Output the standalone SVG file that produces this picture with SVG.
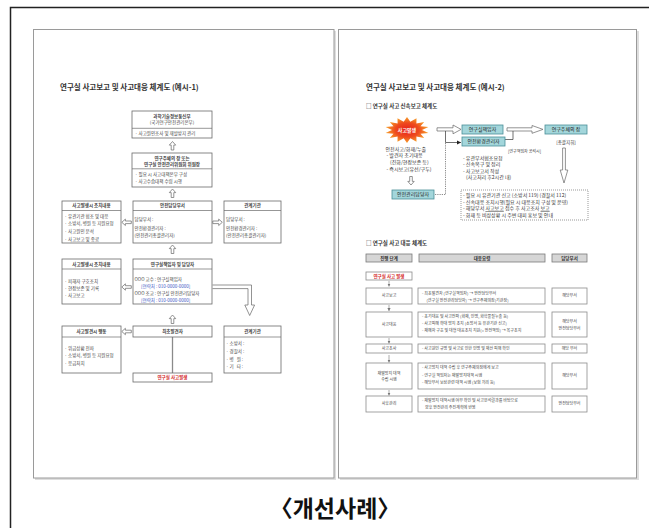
<svg xmlns="http://www.w3.org/2000/svg" width="649" height="528" viewBox="0 0 649 528">
<style>
.t{font-family:"Noto Sans CJK KR","Noto Sans",sans-serif;font-size:4.5px;fill:#444}
.b{font-weight:bold}
.c{text-anchor:middle}
.ttl{font-family:"Noto Sans CJK KR","Noto Sans",sans-serif;font-size:7.5px;font-weight:bold;fill:#333}
.sub{font-family:"Noto Sans CJK KR","Noto Sans",sans-serif;font-size:5.5px;font-weight:bold;fill:#333}
.r{font-size:5px}
.s4{font-size:4px}
.pg{fill:#fff;stroke:#9a9a9a;stroke-width:1}
.sh{fill:#dedede}
.bx{fill:#fff;stroke:#6a6a6a;stroke-width:0.8}
.dv{stroke:#6a6a6a;stroke-width:0.7}
.ha{fill:#fff;stroke:#666;stroke-width:0.7}
.teal{fill:#a3d6db;stroke:#4a8f98;stroke-width:0.8}
.tb{fill:#fff;stroke:#8c8c8c;stroke-width:0.8}
.th{fill:#d6d6d6;stroke:#7a7a7a;stroke-width:0.8}
.red{fill:#d42a2a}
.blue{fill:#3a55c4}
.ln{fill:none;stroke:#333;stroke-width:0.7}
.dot{fill:none;stroke:#333;stroke-width:0.7;stroke-dasharray:0.8 1}
.sa{fill:none;stroke:#777;stroke-width:0.6}
</style>
<defs>
<path id="au" d="M0,0 L3.2,3.6 L1.3,3.6 L1.3,8.5 L-1.3,8.5 L-1.3,3.6 L-3.2,3.6 Z"/>
<path id="al" d="M0,0 L3.6,-3.2 L3.6,-1.3 L9.5,-1.3 L9.5,1.3 L3.6,1.3 L3.6,3.2 Z"/>
<marker id="ah" markerUnits="userSpaceOnUse" markerWidth="5" markerHeight="5" refX="4" refY="2.5" orient="auto"><path d="M0,0.5 L4,2.5 L0,4.5 Z" fill="#222"/></marker>
<marker id="sm" markerUnits="userSpaceOnUse" markerWidth="4" markerHeight="4" refX="3" refY="2" orient="auto"><path d="M0,0.4 L3,2 L0,3.6 Z" fill="#777"/></marker>
<radialGradient id="burst" cx="0.5" cy="0.5" r="0.5">
<stop offset="0" stop-color="#e8201a"/><stop offset="0.55" stop-color="#ee4a1e"/><stop offset="1" stop-color="#f8a12a"/>
</radialGradient>
</defs>

<!-- outer frame -->
<path d="M10.5,528 V7.5 H649" fill="none" stroke="#222" stroke-width="1.5"/>

<!-- pages -->
<rect class="sh" x="35" y="31" width="301" height="449"/>
<rect class="pg" x="33.5" y="29.5" width="300.5" height="448.5"/>
<rect class="sh" x="340" y="31" width="299" height="449"/>
<rect class="pg" x="338.5" y="29.5" width="298" height="448.5"/>

<!-- ============ LEFT PAGE ============ -->
<text class="ttl" x="60" y="89.5">연구실 사고보고 및 사고대응 체계도 (예시-1)</text>

<g id="connectors-left">
<use href="#au" class="ha" transform="translate(172.5,141.5)"/>
<use href="#au" class="ha" transform="translate(172.5,189)"/>
<use href="#au" class="ha" transform="translate(172.5,245)"/>
<use href="#au" class="ha" transform="translate(172.5,315)"/>
<use href="#al" class="ha" transform="translate(121.8,222.3)"/>
<use href="#al" class="ha" transform="translate(222.3,222.3) scale(-1,1)"/>
<use href="#al" class="ha" transform="translate(121.8,287)"/>
<use href="#al" class="ha" transform="translate(121.8,331.5)"/>
<path class="ha" d="M212.5,285 H251.5 V305 H254.6 L249.7,315.5 L244.8,305 H248 V288.6 H212.5"/>
<line x1="172.5" y1="337" x2="172.5" y2="373" stroke="#8a8a8a" stroke-width="1.3"/>
</g>

<g id="n-msit">
<rect class="bx" x="132" y="111" width="80" height="27"/>
<text class="t b c" x="172" y="117.8">과학기술정보통신부</text>
<text class="t c" x="172" y="124.3">(국가연구안전관리본부)</text>
<line class="dv" x1="132" y1="128.3" x2="212" y2="128.3"/>
<text class="t" x="135" y="134.8">· 사고원인조사 및 재발방지 관리</text>
</g>

<g id="n-head">
<rect class="bx" x="132" y="153" width="80" height="34"/>
<text class="t b c" x="172" y="159.5">연구주체의 장 또는</text>
<text class="t b c" x="172" y="166">연구실 안전관리위원회 위원장</text>
<line class="dv" x1="132" y1="168.8" x2="212" y2="168.8"/>
<text class="t" x="135" y="175.6">· 필요 시 사고대책본부 구성</text>
<text class="t" x="135" y="183">· 사고수습대책 수립 시행</text>
</g>

<g id="n-act1">
<rect class="bx" x="62" y="201" width="59" height="42"/>
<text class="t b c" x="91.5" y="207.3">사고발생시 조치내용</text>
<line class="dv" x1="62" y1="210.5" x2="121" y2="210.5"/>
<text class="t" x="64.5" y="217.8">· 유관기관 협조 및 대응</text>
<text class="t" x="64.5" y="225.2">· 소방서, 병원 등 지원요청</text>
<text class="t" x="64.5" y="233.2">· 사고원인 분석</text>
<text class="t" x="64.5" y="240.6">· 사고보고 및 종료</text>
</g>

<g id="n-safety">
<rect class="bx" x="133" y="201" width="79" height="42"/>
<text class="t b c" x="172.5" y="207.3">안전담당부서</text>
<line class="dv" x1="133" y1="210.5" x2="212" y2="210.5"/>
<text class="t" x="134.5" y="220.6">담당부서 :</text>
<text class="t" x="134.5" y="229.6">안전환경관리자 :</text>
<text class="t" x="134.5" y="236.8">(안전관리총괄관리자)</text>
</g>

<g id="n-rel1">
<rect class="bx" x="224" y="201" width="57" height="42"/>
<text class="t b c" x="252.5" y="207.3">관계기관</text>
<line class="dv" x1="224" y1="210.5" x2="281" y2="210.5"/>
<text class="t" x="226" y="220.6">담당부서 :</text>
<text class="t" x="226" y="229.6">안전환경관리자 :</text>
<text class="t" x="226" y="236.8">(안전관리총괄관리자)</text>
</g>

<g id="n-act2">
<rect class="bx" x="62" y="259" width="59" height="45"/>
<text class="t b c" x="91.5" y="266.3">사고발생시 조치내용</text>
<line class="dv" x1="62" y1="269" x2="121" y2="269"/>
<text class="t" x="64.5" y="282.6">· 피해자 구호조치</text>
<text class="t" x="64.5" y="289.6">· 현장보존 및 기록</text>
<text class="t" x="64.5" y="296.6">· 사고보고</text>
</g>

<g id="n-lab">
<rect class="bx" x="133" y="259" width="79" height="45"/>
<text class="t b c" x="172.5" y="266.3">연구실책임자 및 담당자</text>
<line class="dv" x1="133" y1="269" x2="212" y2="269"/>
<text class="t" x="134.5" y="280.6">OOO 교수 : 연구실책임자</text>
<text class="t blue" x="141" y="287.6">[연락처 : 010-0000-0000]</text>
<text class="t" x="134.5" y="294.6">OOO 조교 : 연구실 안전관리담당자</text>
<text class="t blue" x="141" y="302">[연락처 : 010-0000-0000]</text>
</g>

<g id="n-act3">
<rect class="bx" x="62" y="326" width="59" height="47"/>
<text class="t b c" x="91.5" y="333.3">사고발견시 행동</text>
<line class="dv" x1="62" y1="337" x2="121" y2="337"/>
<text class="t" x="64.5" y="349.6">· 위급상황 전파</text>
<text class="t" x="64.5" y="357.3">· 소방서, 병원 등 지원요청</text>
<text class="t" x="64.5" y="364.6">· 응급처치</text>
</g>

<g id="n-finder">
<rect class="bx" x="133" y="326" width="79" height="11"/>
<text class="t b c" x="172.5" y="333.3">최초발견자</text>
</g>

<g id="n-accident">
<rect class="bx" x="133" y="373" width="79" height="9"/>
<text class="t b c red" x="172.5" y="379.3">연구실 사고발생</text>
</g>

<g id="n-rel2">
<rect class="bx" x="224" y="326" width="57" height="47"/>
<text class="t b c" x="252.5" y="333.3">관계기관</text>
<line class="dv" x1="224" y1="337" x2="281" y2="337"/>
<text class="t" x="226" y="344.6">· 소방서 :</text>
<text class="t" x="226" y="352.6">· 경찰서 :</text>
<text class="t" x="226" y="360.6">· 병&#160;&#160;&#160;원 :</text>
<text class="t" x="226" y="368.3">· 기&#160;&#160;&#160;타 :</text>
</g>

<!-- ============ RIGHT PAGE ============ -->
<text class="ttl" x="366" y="89.5">연구실 사고보고 및 사고대응 체계도 (예시-2)</text>
<text class="sub" x="366" y="107.5">□ 연구실 사고 신속보고 체계도</text>

<g id="connectors-right">
<path class="ha" d="M437,127.8 H453 V125 L461,129.4 L453,133.8 V131 H437 Z"/>
<path class="ha" d="M507,127.8 H532 V125.5 L543,129.4 L532,133.3 V131 H507 Z"/>
<path class="ha" d="M562.6,148 H565.4 V170 H567.8 L564,183 L560.2,170 H562.6 Z"/>
<use href="#au" class="ha" transform="translate(411,185) rotate(180)"/>
<path class="ln" d="M505,139.5 H513 V131"/>
<path class="ln" d="M445.5,131 V142.5 H461" marker-end="url(#ah)"/>
<path class="dot" d="M445.5,143 V194.5 H434"/>
<path class="sa" d="M389,281 V286.5" marker-end="url(#sm)"/>
<path class="sa" d="M389,305 V311" marker-end="url(#sm)"/>
<path class="sa" d="M389,338 V343.5" marker-end="url(#sm)"/>
<path class="sa" d="M389,355 V362.5" marker-end="url(#sm)"/>
<path class="sa" d="M389,390 V395.5" marker-end="url(#sm)"/>
</g>

<g id="n-burst">
<polygon fill="url(#burst)" points="407,117 410.3,121.7 416.5,118.3 416.4,123.4 424.2,121.9 420.5,126.3 428.4,127.1 422,130 428.4,132.9 420.5,133.7 424.2,138.1 416.4,136.6 416.5,141.7 410.3,138.3 407,143 403.7,138.3 397.5,141.7 397.6,136.6 389.8,138.1 393.5,133.7 385.6,132.9 392,130 385.6,127.1 393.5,126.3 389.8,121.9 397.6,123.4 397.5,118.3 403.7,121.7"/>
<text class="t b c r" x="407" y="131.8" style="fill:#fff">사고발생</text>
</g>

<g id="n-pi">
<rect class="teal" x="462" y="125" width="41" height="9"/>
<text class="t c r" x="482.5" y="131.3" style="fill:#222">연구실책임자</text>
</g>
<g id="n-she">
<rect class="teal" x="462" y="137" width="43" height="9"/>
<text class="t c r" x="483.5" y="143.3" style="fill:#222">안전환경관리자</text>
</g>
<g id="n-chief">
<rect class="teal" x="545" y="125" width="42" height="9"/>
<text class="t c r" x="566" y="131.3" style="fill:#222">연구주체의 장</text>
<text class="t c" x="566" y="144" style="fill:#333">[총괄지휘]</text>
</g>
<text class="t s4" x="508" y="152.5" style="fill:#333">[연구책임자 공석시]</text>

<g id="n-left-notes" class="t r" style="fill:#333">
<text x="385.5" y="151">안전사고/화재/누출</text>
<text x="386.5" y="157">- 발견자 초기대응</text>
<text x="390" y="163.5">(진화/현장보존 등)</text>
<text x="386.5" y="170.5">- 즉시보고(유선/구두)</text>
</g>

<g id="n-sm">
<rect class="teal" x="392" y="190" width="42" height="9"/>
<text class="t c r" x="413" y="196.3" style="fill:#222">안전관리담당자</text>
</g>

<g id="n-she-notes" class="t r" style="fill:#333">
<text x="463" y="159.8">- 유관부서협조요청</text>
<text x="463" y="166.3">- 신속복구 및 정리</text>
<text x="463" y="172.8">- 사고보고서 작성</text>
<text x="466" y="179.3">(사고처리 후2시간 내)</text>
</g>

<g id="n-dashed">
<rect x="461" y="190" width="127" height="30" fill="#fff" stroke="#555" stroke-width="0.6" stroke-dasharray="1 1"/>
<g class="t r" style="fill:#333">
<text x="463" y="196.8">- 필요 시 유관기관 신고 (소방서 119) (경찰서 112)</text>
<text x="463" y="203.8">- 신속대응 조치시행(필요 시 대응조치 구성 및 운영)</text>
<text x="463" y="210.3">- 해당부서 <tspan text-decoration="underline">사고보고</tspan> 접수 후 사고조사 <tspan text-decoration="underline">보고</tspan></text>
<text x="463" y="216.8">- 화재 등 비상상황 시 주변 대피 홍보 및 안내</text>
</g>
</g>

<text class="sub" x="366" y="244.5">□ 연구실 사고 대응 체계도</text>

<g id="n-table-head" class="t b c" style="fill:#333">
<rect class="th" x="366" y="254" width="46" height="8"/>
<rect class="th" x="419" y="254" width="126" height="8"/>
<rect class="th" x="552" y="254" width="35" height="8"/>
<text x="389" y="259.6">진행 단계</text>
<text x="482" y="259.6">대응요령</text>
<text x="569.5" y="259.6">담당부서</text>
</g>

<g id="n-row0">
<rect class="tb" x="366" y="272" width="46" height="8"/>
<text class="t b c red" x="389" y="277.6">연구실 사고 발생</text>
</g>

<g id="n-row1">
<rect class="tb" x="366" y="288" width="46" height="16"/>
<rect class="tb" x="418" y="288" width="127" height="16"/>
<rect class="tb" x="552" y="288" width="35" height="16"/>
<text class="t c s4" x="389" y="297.4">사고보고</text>
<text class="t s4" x="422" y="294.8">- 최초발견자 (연구실책임자) → 안전담당부서</text>
<text class="t s4" x="426.5" y="301.5">(연구실 안전관리담당자) → 연구주체의장(기관장)</text>
<text class="t c s4" x="569.5" y="297.4">해당부서</text>
</g>

<g id="n-row2">
<rect class="tb" x="366" y="312" width="46" height="25"/>
<rect class="tb" x="418" y="312" width="127" height="25"/>
<rect class="tb" x="552" y="312" width="35" height="25"/>
<text class="t c s4" x="389" y="325.9">사고대응</text>
<text class="t s4" x="422" y="317.5">- 초기대응 및 사고전파 (화재, 인명, 화학물질누출 등)</text>
<text class="t s4" x="422" y="324.8">- 사고피해 확대 방지 조치 (소방서 등 유관기관 신고)</text>
<text class="t s4" x="422" y="332.4">- 재해자 구호 및 대형 대응조치 지원(= 안전책임) → 복구조치</text>
<text class="t c s4" x="569.5" y="323.4">해당부서</text>
<text class="t c s4" x="569.5" y="330.4">안전담당부서</text>
</g>

<g id="n-row3">
<rect class="tb" x="366" y="344" width="46" height="9"/>
<rect class="tb" x="418" y="344" width="127" height="9"/>
<rect class="tb" x="552" y="344" width="35" height="9"/>
<text class="t c s4" x="389" y="349.9">사고조사</text>
<text class="t s4" x="422" y="349.9">- 사고원인 규명 및 사고로 인한 인명 및 재산 피해 확인</text>
<text class="t c s4" x="569.5" y="349.9">해당 부서</text>
</g>

<g id="n-row4">
<rect class="tb" x="366" y="363" width="46" height="26"/>
<rect class="tb" x="418" y="363" width="127" height="26"/>
<rect class="tb" x="552" y="363" width="35" height="26"/>
<text class="t c s4" x="389" y="374.6">재발방지 대책</text>
<text class="t c s4" x="389" y="381">수립 시행</text>
<text class="t s4" x="422" y="369.4">- 사고방지 대책 수립 후 연구주체의장에게 보고</text>
<text class="t s4" x="422" y="376.9">- 연구실 책임자는 재발방지대책 시행</text>
<text class="t s4" x="422" y="384.4">- 해당부서 보상관련 대책 시행 (보험 처리 등)</text>
<text class="t c s4" x="569.5" y="377.4">해당부서</text>
</g>

<g id="n-row5">
<rect class="tb" x="366" y="396" width="46" height="16"/>
<rect class="tb" x="418" y="396" width="127" height="16"/>
<rect class="tb" x="552" y="396" width="35" height="16"/>
<text class="t c s4" x="389" y="405.4">사후관리</text>
<text class="t s4" x="422" y="402.4">- 재발방지 대책시행 여부 확인 및 사고분석결과를 바탕으로</text>
<text class="t s4" x="425" y="408.6">향후 안전관리 추진계획에 반영</text>
<text class="t c s4" x="569.5" y="405.4">안전담당부서</text>
</g>

<text x="335" y="517" text-anchor="middle" style="font-family:'Noto Sans CJK KR','Noto Sans',sans-serif;font-size:23px;font-weight:bold;fill:#111">〈개선사례〉</text>
</svg>
